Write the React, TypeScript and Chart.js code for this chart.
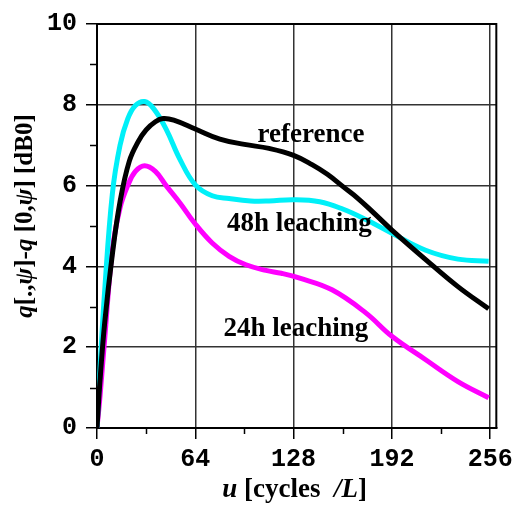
import React, { useEffect, useRef } from "react";
import { Chart, registerables } from "chart.js";

Chart.register(...registerables);

// ---- data ----
const refU = [0, 2, 5, 10, 15, 21, 27, 32, 38, 43, 50, 64, 80, 96, 112, 128, 140, 150, 160, 170, 180, 192, 214, 235, 255];
const refQ = [0, 1.2, 2.6, 4.3, 5.6, 6.6, 7.1, 7.38, 7.58, 7.66, 7.62, 7.4, 7.15, 7.02, 6.92, 6.75, 6.52, 6.28, 5.98, 5.68, 5.33, 4.9, 4.17, 3.5, 2.95];

const h48U = [0, 2, 5, 10, 15, 20, 25, 31, 37, 45, 54, 64, 75, 86, 100, 112, 128, 145, 160, 175, 192, 214, 235, 255];
const h48Q = [0, 1.5, 3.4, 5.8, 7.0, 7.65, 7.98, 8.08, 7.9, 7.4, 6.65, 6.02, 5.75, 5.68, 5.62, 5.62, 5.65, 5.6, 5.42, 5.16, 4.82, 4.4, 4.18, 4.13];

const h24U = [0, 2, 5, 10, 15, 20, 25, 31, 38, 45, 54, 64, 75, 86, 97, 110, 120, 132, 153, 175, 192, 214, 235, 255];
const h24Q = [0, 0.8, 2.2, 4.4, 5.45, 6.0, 6.35, 6.49, 6.35, 6.0, 5.57, 5.05, 4.58, 4.25, 4.04, 3.9, 3.83, 3.71, 3.42, 2.85, 2.27, 1.69, 1.15, 0.75];

const seriesNames = ["reference", "48h leaching", "24h leaching"];
// label anchors in data coordinates (centre x, baseline y)
const labelU = [139.3, 131.7, 129.5];
const labelQ = [7.09, 4.88, 2.27];

const xTickValues = [0, 64, 128, 192, 256];
const xMinorStep = 32;
const xTickStep = 64;
const yTickStep = 2;
const yMinorStep = 1;

const SERIF = '"Liberation Serif", "Times New Roman", serif';
const MONO = '"Liberation Mono", "Courier New", monospace';

type Seg = { t: string; i: boolean };
const yTitle: Seg[] = [
  { t: "q", i: true },
  { t: "[.,", i: false },
  { t: "\u03C8", i: true },
  { t: "]-", i: false },
  { t: "q", i: true },
  { t: " [0,", i: false },
  { t: "\u03C8", i: true },
  { t: "] [dB0]", i: false },
];
const xTitle: Seg[] = [
  { t: "u", i: true },
  { t: " [cycles  ", i: false },
  { t: "/L", i: true },
  { t: "]", i: false },
];

function drawSegs(ctx: CanvasRenderingContext2D, segs: Seg[], size: number, cx: number, baseline: number) {
  const font = (i: boolean) => `${i ? "italic " : ""}bold ${size}px ${SERIF}`;
  let total = 0;
  const widths = segs.map((s) => {
    ctx.font = font(s.i);
    const w = ctx.measureText(s.t).width;
    total += w;
    return w;
  });
  let x = cx - total / 2;
  ctx.textBaseline = "alphabetic";
  ctx.textAlign = "left";
  segs.forEach((s, k) => {
    ctx.font = font(s.i);
    ctx.fillText(s.t, x, baseline);
    x += widths[k];
  });
}

const decorPlugin = {
  id: "decor",
  beforeDatasetsDraw(chart: any) {
    const { ctx, chartArea } = chart;
    const xs = chart.scales.x;
    const ys = chart.scales.y;
    ctx.save();
    ctx.strokeStyle = "#000";
    ctx.lineWidth = 1.5;
    for (let v = xs.min; v <= xs.max; v += xMinorStep) {
      if (v % xTickStep === 0) continue;
      const px = Math.round(xs.getPixelForValue(v)) + 0.5;
      ctx.beginPath();
      ctx.moveTo(px, chartArea.bottom);
      ctx.lineTo(px, chartArea.bottom + 6);
      ctx.stroke();
    }
    for (let v = ys.min; v <= ys.max; v += yMinorStep) {
      if (v % yTickStep === 0) continue;
      const py = Math.round(ys.getPixelForValue(v)) + 0.5;
      ctx.beginPath();
      ctx.moveTo(chartArea.left, py);
      ctx.lineTo(chartArea.left - 7, py);
      ctx.stroke();
    }
    ctx.restore();
  },
  afterDatasetsDraw(chart: any) {
    const { ctx, chartArea } = chart;
    const xs = chart.scales.x;
    const ys = chart.scales.y;
    ctx.save();
    ctx.strokeStyle = "#000";
    ctx.lineWidth = 2;
    ctx.beginPath();
    ctx.moveTo(chartArea.left, chartArea.top);
    ctx.lineTo(chartArea.right, chartArea.top);
    ctx.lineTo(chartArea.right, chartArea.bottom);
    ctx.stroke();
    ctx.fillStyle = "#000";
    ctx.font = `bold 27px ${SERIF}`;
    ctx.textAlign = "center";
    ctx.textBaseline = "alphabetic";
    seriesNames.forEach((n, k) => {
      ctx.fillText(n, xs.getPixelForValue(labelU[k]), ys.getPixelForValue(labelQ[k]));
    });
    drawSegs(ctx, xTitle, 27, (chartArea.left + chartArea.right) / 2 - 2, 497);
    ctx.save();
    ctx.translate(32, 216);
    ctx.rotate(-Math.PI / 2);
    drawSegs(ctx, yTitle, 25, 0, 0);
    ctx.restore();
    ctx.restore();
  },
};

export default function App() {
  const ref = useRef<HTMLCanvasElement | null>(null);
  useEffect(() => {
    if (!ref.current) return;
    const mk = (u: number[], q: number[]) => u.map((x, k) => ({ x, y: q[k] }));
    const common = { borderWidth: 5, pointRadius: 0, tension: 0.4, fill: false };
    const chart = new Chart(ref.current, {
      type: "line",
      data: {
        datasets: [
          { label: seriesNames[0], data: mk(refU, refQ), borderColor: "#000000", ...common },
          { label: seriesNames[1], data: mk(h48U, h48Q), borderColor: "#00F0F8", ...common },
          { label: seriesNames[2], data: mk(h24U, h24Q), borderColor: "#FF00FF", ...common },
        ],
      },
      options: {
        animation: false,
        responsive: false,
        maintainAspectRatio: false,
        layout: { padding: { left: 0, top: 24, right: 21, bottom: 0 } },
        plugins: { legend: { display: false }, tooltip: { enabled: false }, title: { display: false } },
        scales: {
          x: {
            type: "linear",
            min: 0,
            max: 260,
            afterFit: (s: any) => { s.height = 82; },
            afterBuildTicks: (s: any) => { s.ticks = xTickValues.map((v) => ({ value: v })); },
            ticks: {
              color: "#000",
              font: { family: MONO, size: 25, weight: "bold" },
              padding: 6,
              maxRotation: 0,
              autoSkip: false,
            },
            grid: { color: "#333", lineWidth: 1.5, tickLength: 11, tickColor: "#000", tickWidth: 1.5 },
            border: { color: "#000", width: 2 },
          },
          y: {
            min: 0,
            max: 10,
            afterFit: (s: any) => { s.width = 97; },
            ticks: {
              stepSize: yTickStep,
              color: "#000",
              font: { family: MONO, size: 25, weight: "bold" },
              padding: 9,
            },
            grid: { color: "#333", lineWidth: 1.5, tickLength: 11, tickColor: "#000", tickWidth: 1.5 },
            border: { color: "#000", width: 2 },
          },
        },
      },
      plugins: [decorPlugin],
    } as any);
    return () => chart.destroy();
  }, []);
  return (
    <div style={{ position: "absolute", left: 0, top: 0, width: 519, height: 510, background: "#fff" }}>
      <canvas ref={ref} width={519} height={510} style={{ width: 519, height: 510, display: "block" }} />
    </div>
  );
}
